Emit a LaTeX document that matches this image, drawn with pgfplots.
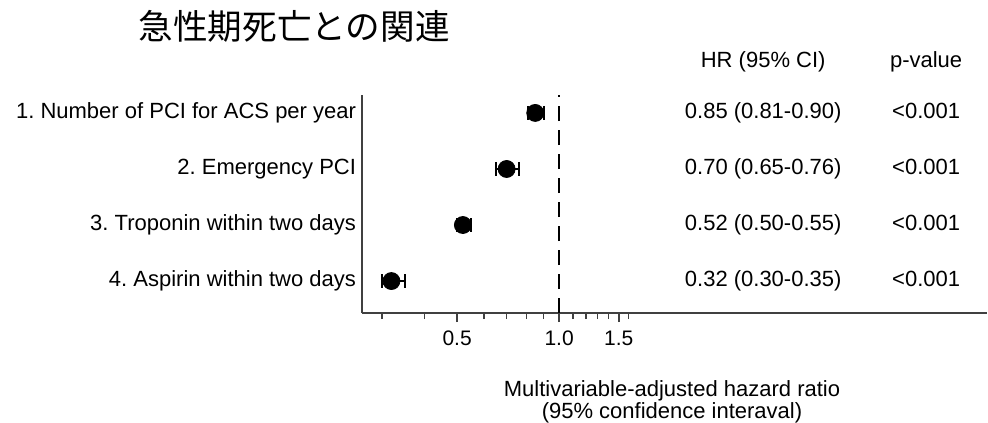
\documentclass[border=0pt]{standalone}
\usepackage{fontspec}
\setmainfont{Liberation Sans}
\newfontfamily\cjk{Noto Sans CJK JP}
\usepackage{pgfplots}
\pgfplotsset{compat=1.18}
\frenchspacing

\begin{document}
\begin{tikzpicture}
\begin{axis}[
    name=ax,
    scale only axis,
    width=312.5bp, height=109bp,
    xmode=log,
    xmin=0.262, xmax=18.3,
    ymin=0.43, ymax=4.32,
    axis x line=bottom, axis y line=left,
    axis line style={-, line width=0.9bp, black!75},
    tick align=outside,
    xtick={0.5,1,1.5},
    xticklabels={0.5,1.0,1.5},
    minor xtick={0.3,0.4,0.6,0.7,0.8,0.9,1.1,1.2,1.3,1.4,1.6},
    major tick length=4.5bp, minor tick length=3bp,
    tick style={line width=0.7bp, black!75},
    xticklabel style={font=\fontsize{10.5bp}{12bp}\selectfont, yshift=-1bp},
    ytick={1,2,3,4},
    yticklabels={4. Aspirin within two days, 3. Troponin within two days, 2. Emergency PCI, 1. Number of PCI for ACS per year},
    ytick style={draw=none},
    yticklabel style={font=\fontsize{11bp}{13bp}\selectfont, xshift=5bp},
    clip=false,
]
% reference line at HR = 1
\addplot[black, line width=0.7bp, dash pattern=on 7.5bp off 4.5bp] coordinates {(1,0.43) (1,4.32)};

% confidence intervals
\addplot[black, line width=1.1bp, mark=|, mark size=3.5bp] coordinates {(0.81,4) (0.90,4)};
\addplot[black, line width=1.1bp, mark=|, mark size=3.5bp] coordinates {(0.65,3) (0.76,3)};
\addplot[black, line width=1.1bp, mark=|, mark size=3.5bp] coordinates {(0.50,2) (0.55,2)};
\addplot[black, line width=1.1bp, mark=|, mark size=3.5bp] coordinates {(0.30,1) (0.35,1)};

% hazard ratios
\addplot[only marks, mark=*, mark size=4.25bp, black] coordinates {(0.85,4) (0.70,3) (0.52,2) (0.32,1)};

\begin{scope}[every node/.style={font=\fontsize{11bp}{13bp}\selectfont, text height=0.8em, text depth=0.22em}]
\node at (axis cs:4.0,4.91) {HR (95\% CI)};
\node at (axis cs:12.1,4.91) {p-value};
\node at (axis cs:4.0,4) {0.85 (0.81-0.90)};
\node at (axis cs:4.0,3) {0.70 (0.65-0.76)};
\node at (axis cs:4.0,2) {0.52 (0.50-0.55)};
\node at (axis cs:4.0,1) {0.32 (0.30-0.35)};
\node at (axis cs:12.1,4) {<0.001};
\node at (axis cs:12.1,3) {<0.001};
\node at (axis cs:12.1,2) {<0.001};
\node at (axis cs:12.1,1) {<0.001};
\end{scope}

\node[align=center, font=\fontsize{11bp}{11.2bp}\selectfont] at (rel axis cs:0.496,-0.406)
    {Multivariable-adjusted hazard ratio\\(95\% confidence interaval)};
\node[anchor=west, inner sep=0pt, font=\cjk\fontsize{17.3bp}{20bp}\selectfont] at (rel axis cs:-0.358,1.316) {急性期死亡との関連};
\end{axis}
\pgfresetboundingbox
\path[use as bounding box] ([shift={(-181bp,-55bp)}]ax.south west) rectangle ([shift={(313bp,156.5bp)}]ax.south west);
\end{tikzpicture}
\end{document}
